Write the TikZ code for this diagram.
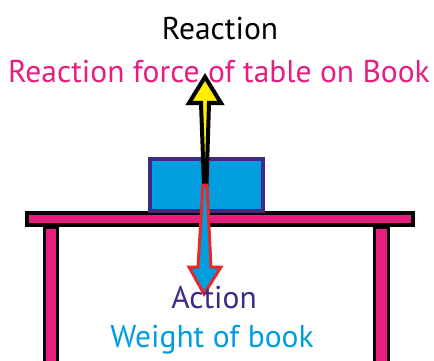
\documentclass[tikz,border=0pt]{standalone}
\usepackage{fontspec}
\setmainfont{PT Sans}
\usetikzlibrary{positioning}

\definecolor{tablepink}{RGB}{230,30,128}
\definecolor{bookcyan}{RGB}{0,158,222}
\definecolor{bookpurple}{RGB}{64,42,132}
\definecolor{arrowred}{RGB}{230,40,40}
\definecolor{arrowyellow}{RGB}{255,238,0}

\begin{document}
\begin{tikzpicture}[
    x=1pt, y=-1pt,
    leg/.style={draw=black, line width=3pt, fill=tablepink},
    top/.style={draw=black, line width=4.5pt, fill=tablepink},
    bookbox/.style={draw=bookpurple, line width=3.5pt, fill=bookcyan},
    uparrow/.style={draw=black, line width=4pt, fill=arrowyellow, line join=miter},
    downarrow/.style={draw=arrowred, line width=3pt, fill=bookcyan, line join=miter},
    title/.style={font=\fontsize{31.5}{34}\selectfont, inner sep=0pt, anchor=base}
]
\useasboundingbox (0,0) rectangle (434,361);

% Table
\draw[leg] (44.5,227) rectangle (57,375);
\draw[leg] (374.5,227) rectangle (388.5,375);
\draw[top] (27,213) rectangle (413,225);

% Book
\draw[bookbox] (150,159) rectangle (263,211);

% Reaction force (up)
\draw[uparrow] (204,185) -- (201,103) -- (189,103) -- (205,77)
    -- (221,103) -- (209,103) -- (206.5,185) -- cycle;

% Weight (down)
\draw[downarrow] (203,185) -- (207,185) -- (211,267) -- (221,267)
    -- (204,294) -- (189,267) -- (198,267) -- cycle;

% Labels
\node[title] (reaction) at (220,40) {Reaction};
\node[title, text=tablepink] (tableforce) at (219,83) {Reaction force of table on Book};
\node[title, text=bookpurple] (action) at (214,308) {Action};
\node[title, text=bookcyan] (weight) at (212,347) {Weight of book};

\end{tikzpicture}
\end{document}
